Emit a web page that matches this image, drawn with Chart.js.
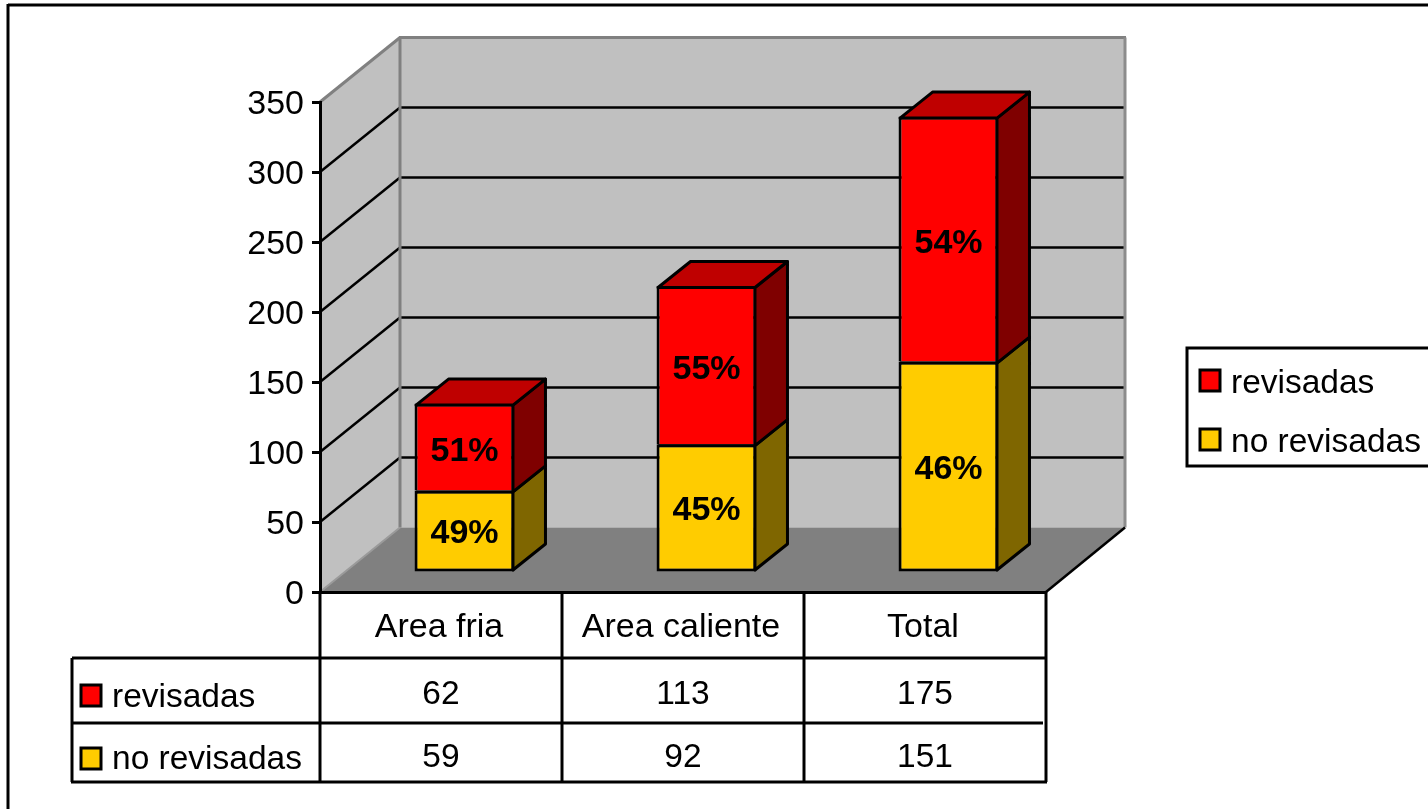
<!DOCTYPE html>
<html lang="es">
<head>
<meta charset="utf-8">
<title>Revisadas por area</title>
<script src="https://cdn.jsdelivr.net/npm/chart.js@4/dist/chart.umd.min.js"></script>
<style>
    html, body { margin: 0; padding: 0; background: #fff; }
    canvas { display: block; }
</style>
</head>
<body>
<canvas id="chart" width="1428" height="809"></canvas>
<script>
// Data
const categories = ['Area fria', 'Area caliente', 'Total'];
const revisadas = [62, 113, 175];
const noRevisadas = [59, 92, 151];
const revisadasPct = ['51%', '55%', '54%'];
const noRevisadasPct = ['49%', '45%', '46%'];
const yTicks = [0, 50, 100, 150, 200, 250, 300, 350];

const FONT = '33.5px "Liberation Sans", Arial, sans-serif';
const FONT_BOLD = 'bold 34px "Liberation Sans", Arial, sans-serif';

// Fake 3D projection
const wallDx = 80, wallDy = -64.5;     // front plane -> back wall
const barDx = 23.5, barDy = -19;       // front plane -> front of the bars
const depthDx = 32.5, depthDy = -26;   // depth of one bar
const barLine = 3;

function poly(ctx, pts, fill, stroke, width) {
    ctx.beginPath();
    pts.forEach((p, i) => i ? ctx.lineTo(p[0], p[1]) : ctx.moveTo(p[0], p[1]));
    ctx.closePath();
    if (fill) { ctx.fillStyle = fill; ctx.fill(); }
    if (stroke) { ctx.strokeStyle = stroke; ctx.lineWidth = width; ctx.lineJoin = 'round'; ctx.stroke(); }
}

function line(ctx, x1, y1, x2, y2, color, width) {
    ctx.beginPath();
    ctx.moveTo(x1, y1);
    ctx.lineTo(x2, y2);
    ctx.strokeStyle = color;
    ctx.lineWidth = width;
    ctx.stroke();
}

function legendKey(ctx, x, y, w, h, color) {
    ctx.fillStyle = color;
    ctx.strokeStyle = '#000';
    ctx.lineWidth = 3;
    ctx.fillRect(x, y, w, h);
    ctx.strokeRect(x, y, w, h);
}

// Walls, floor and outer frame, behind everything
const wallsPlugin = {
    id: 'walls',
    beforeDraw(chart) {
        const ctx = chart.ctx;
        const { left, right } = chart.chartArea;
        const y = chart.scales.y;
        const y0 = y.getPixelForValue(0);
        const yTop = y.getPixelForValue(350);
        const backL = left + wallDx, backR = right + wallDx - 1;

        ctx.save();
        line(ctx, 8, 5, 1428, 5, '#000', 3);
        line(ctx, 8, 4, 8, 809, '#000', 3);

        poly(ctx, [[left, y0], [backL, y0 + wallDy], [backL, yTop + wallDy], [left, yTop]], '#c0c0c0');
        poly(ctx, [[backL, y0 + wallDy], [backR, y0 + wallDy], [backR, yTop + wallDy], [backL, yTop + wallDy]], '#c0c0c0');
        poly(ctx, [[left, y0], [right, y0], [backR, y0 + wallDy], [backL, y0 + wallDy]], '#808080');

        yTicks.slice(1, -1).forEach(v => {
            const p = y.getPixelForValue(v);
            line(ctx, left, p, backL, p + wallDy, '#000', 2.5);
            line(ctx, backL, p + wallDy, backR, p + wallDy, '#000', 2.5);
        });

        line(ctx, left, yTop, backL, yTop + wallDy, '#808080', 3);
        line(ctx, backL - 1, yTop + wallDy, backR + 1, yTop + wallDy, '#808080', 3);
        line(ctx, backL, yTop + wallDy, backL, y0 + wallDy, '#808080', 3);
        line(ctx, backR, yTop + wallDy, backR, y0 + wallDy, '#8c8c8c', 3);
        line(ctx, left, y0, backL, y0 + wallDy, '#9a9a9a', 2);
        line(ctx, right, y0, backR, y0 + wallDy, '#000', 2.5);
        ctx.restore();
    }
};

// Moves the bars onto their own plane, adds the side and top faces and the percentages
const barsPlugin = {
    id: 'bars3d',
    beforeDatasetsDraw(chart) {
        chart.ctx.save();
        chart.ctx.translate(barDx, barDy);
    },
    afterDatasetsDraw(chart) {
        const ctx = chart.ctx;
        const last = chart.data.datasets.length - 1;
        const inset = barLine / 2;
        chart.data.datasets.forEach((ds, i) => {
            chart.getDatasetMeta(i).data.forEach((bar, j) => {
                // the library draws the border inside the box, so follow its centre line
                const l = bar.x - bar.width / 2 + inset, r = bar.x + bar.width / 2 - inset;
                const t = bar.y + inset;
                // a stacked bar shares its lower edge with the top border of the one below
                const b = i === 0 ? bar.base - inset : bar.base + inset;
                poly(ctx, [[r, t], [r + depthDx, t + depthDy], [r + depthDx, b + depthDy], [r, b]], ds.sideColor, '#000', barLine);
                if (i > 0) {
                    line(ctx, l, b, r, b, '#000', barLine);
                }
                if (i === last) {
                    poly(ctx, [[l, t], [l + depthDx, t + depthDy], [r + depthDx, t + depthDy], [r, t]], ds.topColor, '#000', barLine);
                }
                ctx.fillStyle = '#000';
                ctx.font = FONT_BOLD;
                ctx.textAlign = 'center';
                ctx.textBaseline = 'alphabetic';
                ctx.fillText(ds.pct[j], bar.x, (t + b) / 2 + 12);
            });
        });
        ctx.restore();
    }
};

// Data table under the chart and the legend box at the right
const tablePlugin = {
    id: 'dataTable',
    afterDraw(chart) {
        const ctx = chart.ctx;
        const x = chart.scales.x;
        const { left, right, bottom } = chart.chartArea;
        const tableLeft = 72;
        const rowLines = [658, 723, 782];
        const band = (right - left) / categories.length;

        ctx.save();
        line(ctx, tableLeft, rowLines[0], right, rowLines[0], '#000', 3);
        line(ctx, tableLeft, rowLines[1], right - 3, rowLines[1], '#000', 3);
        line(ctx, tableLeft - 1, rowLines[2], right + 1, rowLines[2], '#000', 3);
        line(ctx, tableLeft, rowLines[0], tableLeft, rowLines[2], '#000', 3);
        for (let i = 0; i <= categories.length; i++) {
            line(ctx, left + i * band, bottom, left + i * band, rowLines[2], '#000', 3);
        }

        legendKey(ctx, 81, 685, 20, 21, '#ff0000');
        legendKey(ctx, 81, 748, 20, 21, '#ffcc00');

        ctx.font = FONT;
        ctx.fillStyle = '#000';
        ctx.textBaseline = 'alphabetic';
        ctx.textAlign = 'left';
        ctx.fillText('revisadas', 112, 707);
        ctx.fillText('no revisadas', 112, 769);
        ctx.textAlign = 'center';
        categories.forEach((c, i) => {
            const cx = x.getPixelForTick(i);
            ctx.fillText(String(revisadas[i]), cx, 704);
            ctx.fillText(String(noRevisadas[i]), cx, 767);
        });

        // legend
        ctx.strokeStyle = '#000';
        ctx.lineWidth = 3;
        ctx.strokeRect(1187, 348, 260, 118);
        legendKey(ctx, 1200, 370, 20, 21, '#ff0000');
        legendKey(ctx, 1200, 429, 20, 21, '#ffcc00');
        ctx.fillStyle = '#000';
        ctx.textAlign = 'left';
        ctx.fillText('revisadas', 1231, 393);
        ctx.fillText('no revisadas', 1231, 452);
        ctx.restore();
    }
};

new Chart(document.getElementById('chart'), {
    type: 'bar',
    data: {
        labels: categories,
        datasets: [
            {
                label: 'no revisadas',
                data: noRevisadas,
                pct: noRevisadasPct,
                backgroundColor: '#ffcc00',
                sideColor: '#7f6600',
                borderColor: '#000',
                borderWidth: barLine,
                borderSkipped: false
            },
            {
                label: 'revisadas',
                data: revisadas,
                pct: revisadasPct,
                backgroundColor: '#ff0000',
                sideColor: '#7f0000',
                topColor: '#bf0000',
                borderColor: '#000',
                borderWidth: barLine,
                borderSkipped: 'start'
            }
        ]
    },
    options: {
        responsive: false,
        animation: false,
        barPercentage: 0.413,
        categoryPercentage: 1,
        layout: { padding: { left: 0, right: 382, top: 102, bottom: 0 } },
        plugins: {
            legend: { display: false },
            tooltip: { enabled: false }
        },
        scales: {
            x: {
                stacked: true,
                afterFit(scale) { scale.height = 217; },
                grid: { display: false },
                border: { display: true, color: '#000', width: 3 },
                ticks: {
                    color: '#000',
                    font: { family: '"Liberation Sans", Arial, sans-serif', size: 34 },
                    padding: 7,
                    labelOffset: -2,
                    maxRotation: 0,
                    autoSkip: false
                }
            },
            y: {
                stacked: true,
                min: 0,
                max: 350,
                afterFit(scale) { scale.width = 320; },
                afterBuildTicks(scale) { scale.ticks = yTicks.map(v => ({ value: v })); },
                grid: { drawOnChartArea: false, color: '#000', lineWidth: 3, tickLength: 8 },
                border: { display: true, color: '#000', width: 3 },
                ticks: {
                    color: '#000',
                    font: { family: '"Liberation Sans", Arial, sans-serif', size: 34 },
                    padding: 8,
                    labelOffset: 3
                }
            }
        }
    },
    plugins: [wallsPlugin, barsPlugin, tablePlugin]
});
</script>
</body>
</html>
